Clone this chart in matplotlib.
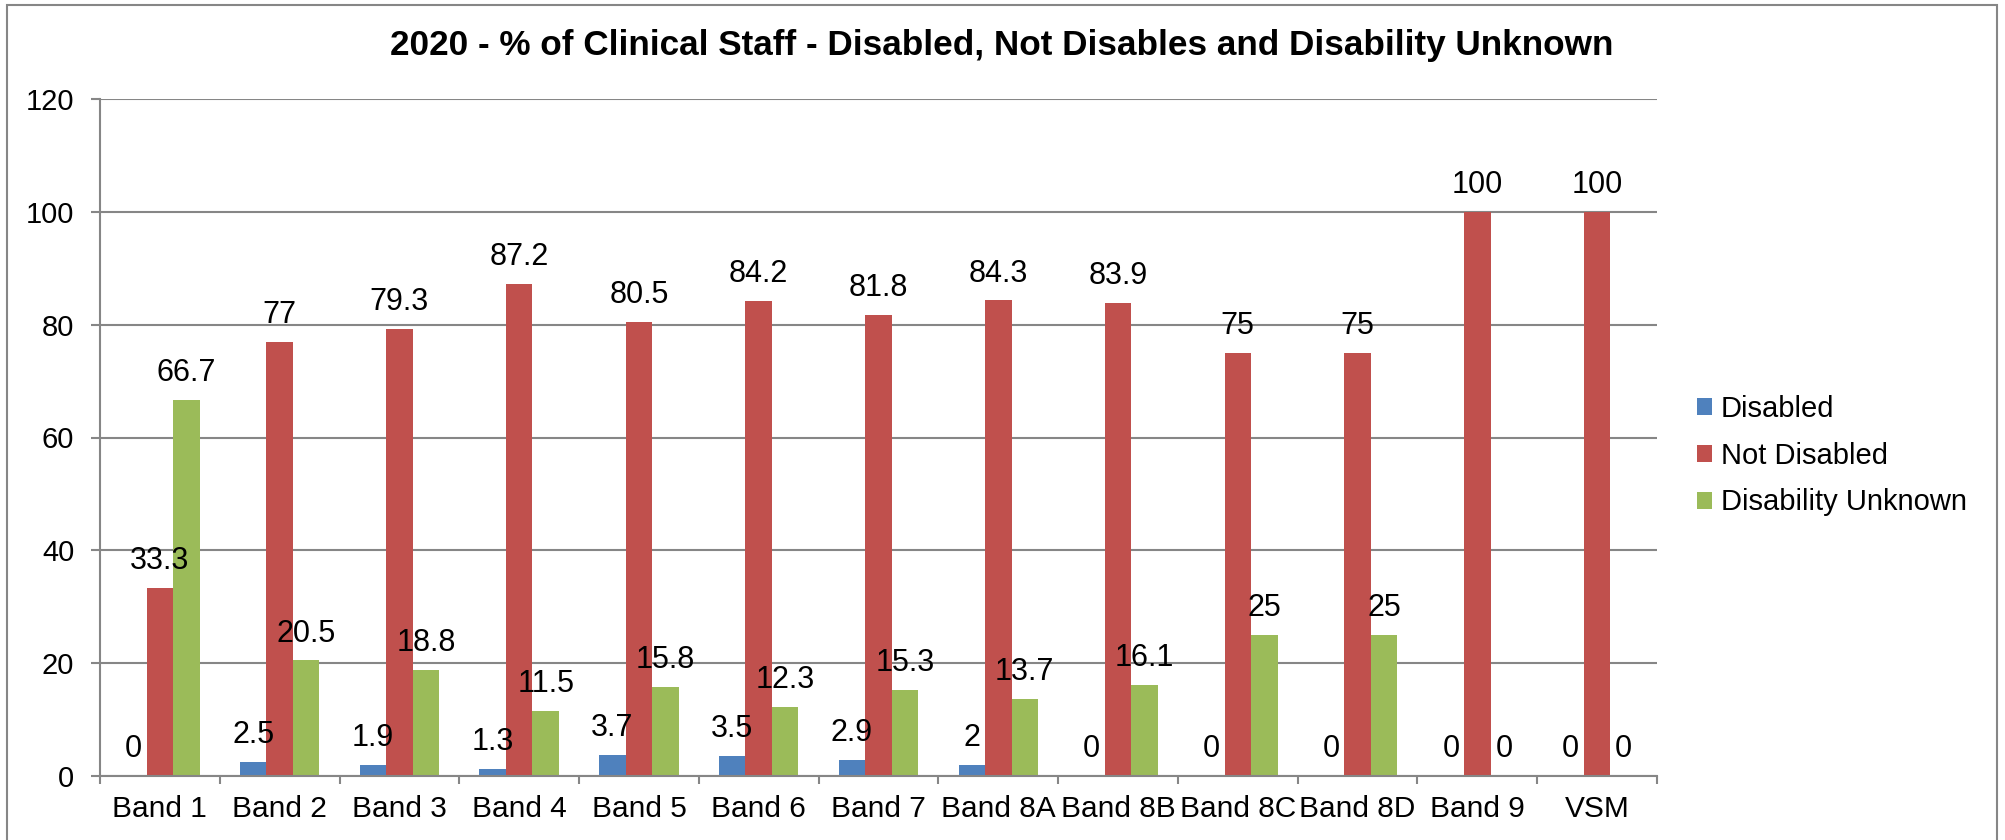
import numpy as np
import matplotlib
matplotlib.use("Agg")
import matplotlib.pyplot as plt
from matplotlib.patches import Rectangle

plt.rcParams['font.family'] = ['Liberation Sans', 'DejaVu Sans']

# data
bands = ['Band 1', 'Band 2', 'Band 3', 'Band 4', 'Band 5', 'Band 6', 'Band 7',
         'Band 8A', 'Band 8B', 'Band 8C', 'Band 8D', 'Band 9', 'VSM']
disabled = [0, 2.5, 1.9, 1.3, 3.7, 3.5, 2.9, 2, 0, 0, 0, 0, 0]
not_disabled = [33.3, 77, 79.3, 87.2, 80.5, 84.2, 81.8, 84.3, 83.9, 75, 75, 100, 100]
unknown = [66.7, 20.5, 18.8, 11.5, 15.8, 12.3, 15.3, 13.7, 16.1, 25, 25, 0, 0]

title = '2020 - % of Clinical Staff - Disabled, Not Disables and Disability Unknown'
grey = '#868686'

fig = plt.figure(figsize=(20.06, 8.4), dpi=100)
# plot area: x 100..1657 px, y 99..776 px
ax = fig.add_axes([100/2006, 64/840, 1557/2006, 677/840])

# outer chart border
fig.patches.append(Rectangle((7/2006, -0.1), 1990/2006, 1.1 - 5/840,
                             transform=fig.transFigure, fill=False,
                             edgecolor=grey, linewidth=1.5))

x = np.arange(len(bands))
w = 0.221
series = [(disabled, 'Disabled', '#4F81BD'),
          (not_disabled, 'Not Disabled', '#C0504D'),
          (unknown, 'Disability Unknown', '#9BBB59')]
for i, (vals, name, col) in enumerate(series):
    bars = ax.bar(x + (i - 1) * w, vals, w, color=col, label=name, zorder=2)
    ax.bar_label(bars, labels=['%g' % v for v in vals], padding=8.5,
                 fontsize=22, zorder=3)

ax.set_ylim(0, 120)
ax.set_yticks(range(0, 121, 20))
ax.set_xlim(-0.5, len(bands) - 0.5)
ax.set_xticks(x)
ax.set_xticklabels(bands)
ax.set_xticks(np.arange(len(bands) + 1) - 0.5, minor=True)
ax.tick_params(axis='x', which='major', length=0, pad=14, labelsize=21.5)
ax.tick_params(axis='x', which='minor', length=6, width=1.5, color=grey)
ax.tick_params(axis='y', length=6.5, width=1.5, color=grey, labelsize=21, pad=12)

ax.grid(axis='y', color=grey, linewidth=1.5, zorder=0)
ax.set_axisbelow(True)
for s in ['top', 'right']:
    ax.spines[s].set_visible(False)
for s in ['left', 'bottom']:
    ax.spines[s].set_color(grey)
    ax.spines[s].set_linewidth(1.5)

fig.text(1002/2006, 1 - 45.5/840, title, ha='center', va='center',
         fontsize=25.3, fontweight='bold')

ax.legend(loc='center left', bbox_to_anchor=(1.009, 0.473), frameon=False,
          fontsize=21, handlelength=0.52, handleheight=0.52, handletextpad=0.28,
          labelspacing=0.64)

fig.savefig('out.png', dpi=100)
